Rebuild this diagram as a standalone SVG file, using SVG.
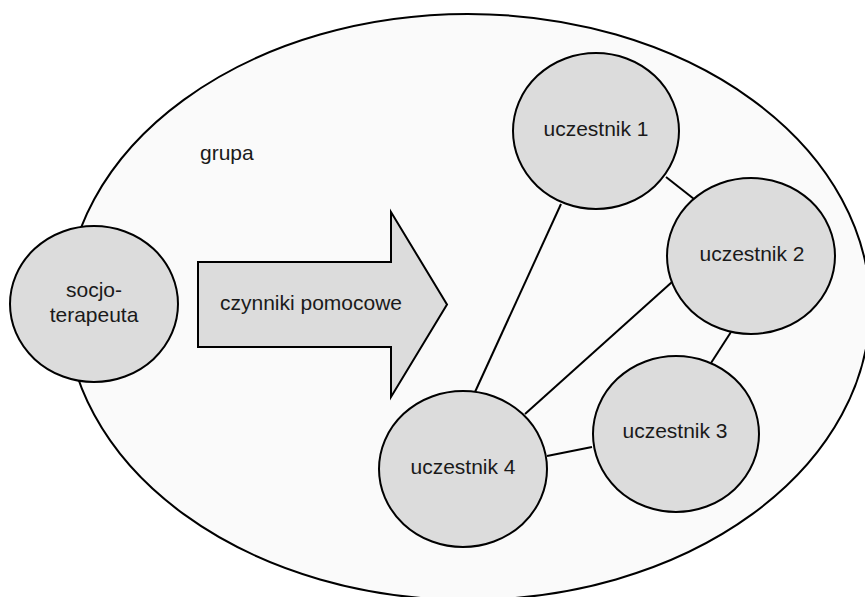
<svg xmlns="http://www.w3.org/2000/svg" width="865" height="597" viewBox="0 0 865 597">
<style>
.node{fill:#dcdcdc;stroke:#000;stroke-width:2}
.lbl{font-family:"Liberation Sans",Arial,sans-serif;font-size:21px;fill:#1a1a1a;text-anchor:middle}
.edge{stroke:#000;stroke-width:2;fill:none}
</style>
<rect x="0" y="0" width="865" height="597" fill="#ffffff"/>
<g id="grupa">
<ellipse cx="468" cy="307" rx="402" ry="293" fill="#fafafa" stroke="#000" stroke-width="2"/>
<text x="200" y="160" class="lbl" style="text-anchor:start">grupa</text>
</g>
<g id="connectors">
<line class="edge" x1="666" y1="177" x2="694" y2="199"/>
<line class="edge" x1="561" y1="204" x2="475" y2="392"/>
<line class="edge" x1="525" y1="414" x2="672" y2="282"/>
<line class="edge" x1="731" y1="332" x2="711" y2="363"/>
<line class="edge" x1="547" y1="456" x2="592" y2="447"/>
</g>
<g id="socjoterapeuta">
<ellipse class="node" cx="94" cy="304" rx="84" ry="78"/>
<text class="lbl" x="94" y="297">socjo-</text>
<text class="lbl" x="94" y="322">terapeuta</text>
</g>
<g id="czynniki">
<polygon class="node" points="198,262 391,262 391,212 447,304.5 391,397 391,347 198,347"/>
<text class="lbl" x="311" y="310">czynniki pomocowe</text>
</g>
<g id="uczestnik1">
<ellipse class="node" cx="596" cy="131" rx="83" ry="78"/>
<text class="lbl" x="596" y="136">uczestnik 1</text>
</g>
<g id="uczestnik2">
<ellipse class="node" cx="751" cy="256" rx="84" ry="78"/>
<text class="lbl" x="752" y="261">uczestnik 2</text>
</g>
<g id="uczestnik3">
<ellipse class="node" cx="676" cy="434" rx="83" ry="78"/>
<text class="lbl" x="675" y="438">uczestnik 3</text>
</g>
<g id="uczestnik4">
<ellipse class="node" cx="463" cy="469" rx="84" ry="78"/>
<text class="lbl" x="463" y="474">uczestnik 4</text>
</g>
</svg>
